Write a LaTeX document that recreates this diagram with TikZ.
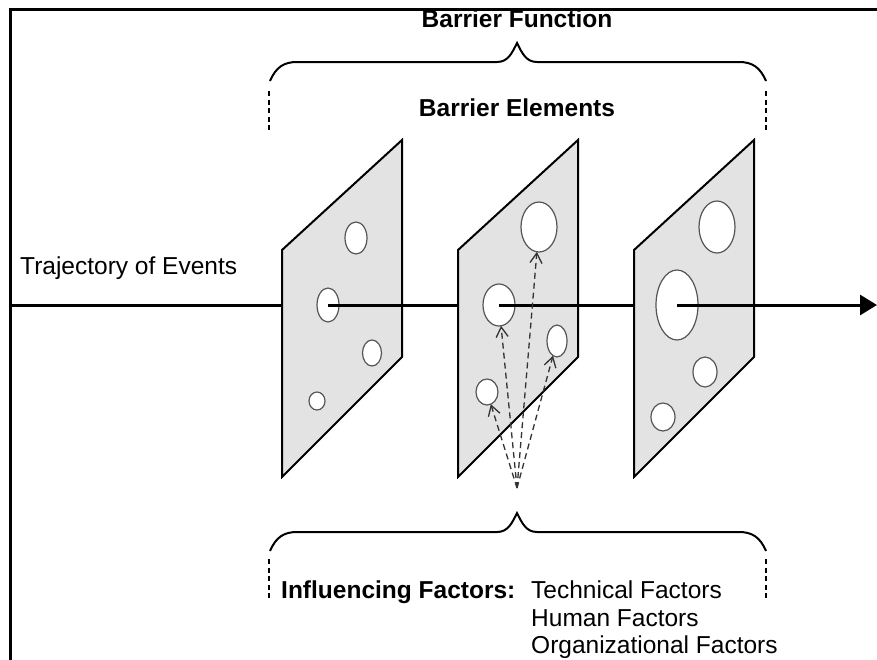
\documentclass[tikz,border=0pt]{standalone}
\usepackage{fontspec}
\setmainfont{Liberation Sans}
\usetikzlibrary{arrows.meta,shapes.geometric}
\definecolor{plategray}{RGB}{227,227,227}
\definecolor{holegray}{RGB}{85,85,85}
\begin{document}
\begin{tikzpicture}[x=1pt,y=-1pt,
  plate/.style={draw=black,line width=2pt,fill=plategray,line join=miter},
  hole/.style={ellipse,draw=holegray,line width=1.2pt,fill=white,inner sep=0pt,outer sep=0pt},
  traj/.style={line width=3pt},
  bracepath/.style={line width=2pt},
  guide/.style={line width=1.5pt,dash pattern=on 5pt off 3.5pt},
  infl/.style={line width=1.3pt,draw=black!80,dash pattern=on 6pt off 4pt,
    -{Straight Barb[length=10pt,width=12pt,line width=1.3pt]}},
  lbl/.style={font=\fontsize{24.5}{28}\selectfont,inner sep=0pt},
  blbl/.style={font=\fontsize{24.5}{28}\selectfont\bfseries,inner sep=0pt},
]
\useasboundingbox (0,0) rectangle (877,659);
\fill[white] (0,0) rectangle (877,659);

% plates
\draw[plate] (282,250) -- (402,140) -- (402,357) -- (282,477) -- cycle;
\draw[plate] (458,250) -- (578,140) -- (578,357) -- (458,477) -- cycle;
\draw[plate] (634,250) -- (754,140) -- (754,357) -- (634,477) -- cycle;

% holes
\node[hole,minimum width=22pt,minimum height=32pt] (h11) at (356,238) {};
\node[hole,minimum width=22pt,minimum height=34pt] (h12) at (328,305) {};
\node[hole,minimum width=19pt,minimum height=26pt] (h13) at (372,353) {};
\node[hole,minimum width=16pt,minimum height=18pt] (h14) at (317,401) {};
\node[hole,minimum width=36pt,minimum height=50pt] (h21) at (539,227) {};
\node[hole,minimum width=32pt,minimum height=42pt] (h22) at (499,305) {};
\node[hole,minimum width=20pt,minimum height=32pt] (h23) at (557,341) {};
\node[hole,minimum width=22pt,minimum height=26pt] (h24) at (487,392) {};
\node[hole,minimum width=36pt,minimum height=52pt] (h31) at (717,227) {};
\node[hole,minimum width=42pt,minimum height=70pt] (h32) at (677,305) {};
\node[hole,minimum width=24pt,minimum height=30pt] (h33) at (705,372) {};
\node[hole,minimum width=24pt,minimum height=28pt] (h34) at (663,417) {};

% trajectory
\coordinate (start) at (10,305);
\coordinate (p1l) at (282,305);
\coordinate (p2l) at (458,305);
\coordinate (p3l) at (634,305);
\coordinate (end) at (877,305);
\draw[traj] (start) -- (p1l);
\draw[traj] (h12.center) -- (p2l);
\draw[traj] (h22.center) -- (p3l);
\draw[traj,-{Triangle[length=17pt,width=20pt]}] (h32.center) -- (end);

% influencing arrows
\coordinate (src) at (517,488);
\draw[infl] (src) -- (h24);
\draw[infl] (src) -- (h22);
\draw[infl] (src) -- (h21);
\draw[infl] (src) -- (h23);

% braces
\draw[bracepath] (270,81) .. controls (276,67) and (284,62) .. (297,62) -- (497,62)
  .. controls (508,62) and (512,53) .. (517,43) .. controls (522,53) and (526,62) .. (537,62)
  -- (739,62) .. controls (752,62) and (760,67) .. (766,81);
\begin{scope}[shift={(0,470)}]
\draw[bracepath] (270,81) .. controls (276,67) and (284,62) .. (297,62) -- (497,62)
  .. controls (508,62) and (512,53) .. (517,43) .. controls (522,53) and (526,62) .. (537,62)
  -- (739,62) .. controls (752,62) and (760,67) .. (766,81);
\end{scope}
\draw[guide] (269,91) -- (269,131);
\draw[guide] (766,91) -- (766,131);
\draw[guide] (269,559) -- (269,599);
\draw[guide] (766,559) -- (766,599);

% labels
\node[blbl,anchor=base] (bf) at (517,27.7) {Barrier Function};
\node[blbl,anchor=base] (be) at (517,116.7) {Barrier Elements};
\node[lbl,anchor=base west] (toe) at (20,274) {Trajectory of Events};
\node[blbl,anchor=base west] (inf) at (281,598) {Influencing Factors:};
\node[lbl,anchor=base west] (tf) at (531,598) {Technical Factors};
\node[lbl,anchor=base west] (hf) at (531,626) {Human Factors};
\node[lbl,anchor=base west] (of) at (531,653) {Organizational Factors};

% frame
\draw[line width=3pt,line join=miter] (10,680) -- (10,9) -- (900,9);
\end{tikzpicture}
\end{document}
